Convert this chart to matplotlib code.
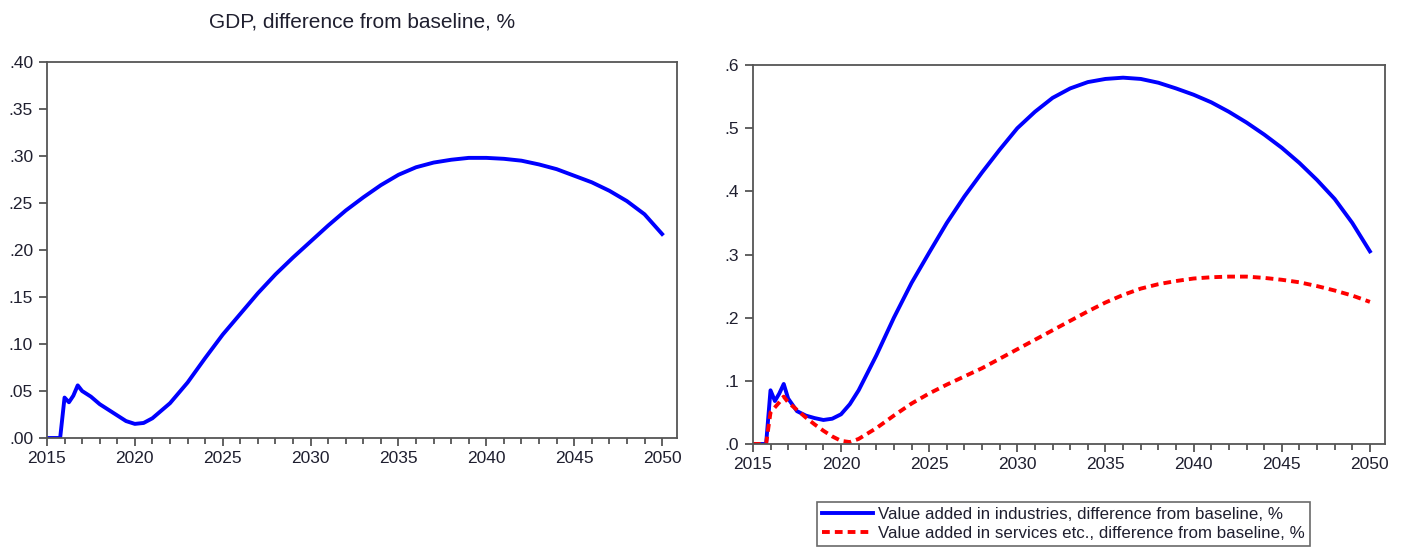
import matplotlib
matplotlib.use("Agg")
import matplotlib.pyplot as plt
from matplotlib.ticker import MultipleLocator, FuncFormatter

plt.rcParams['font.family'] = ['Liberation Sans', 'DejaVu Sans']

# values
years = [2015.0, 2015.5, 2015.75, 2016.0, 2016.25, 2016.5, 2016.75, 2017.0, 2017.5,
         2018.0, 2018.5, 2019.0, 2019.5, 2020.0, 2020.5, 2021.0, 2022.0, 2023.0, 2024.0,
         2025.0, 2026.0, 2027.0, 2028.0, 2029.0, 2030.0, 2031.0, 2032.0, 2033.0, 2034.0,
         2035.0, 2036.0, 2037.0, 2038.0, 2039.0, 2040.0, 2041.0, 2042.0, 2043.0, 2044.0,
         2045.0, 2046.0, 2047.0, 2048.0, 2049.0, 2050.0]

gdp = [0.0, 0.0, 0.0, 0.043, 0.038, 0.045, 0.056, 0.050, 0.044,
       0.036, 0.030, 0.024, 0.018, 0.015, 0.016, 0.021, 0.037, 0.059, 0.085,
       0.110, 0.132, 0.154, 0.174, 0.192, 0.209, 0.226, 0.242, 0.256, 0.269,
       0.280, 0.288, 0.293, 0.296, 0.298, 0.298, 0.297, 0.295, 0.291, 0.286,
       0.279, 0.272, 0.263, 0.252, 0.238, 0.217]

industries = [0.0, 0.0, 0.0, 0.085, 0.068, 0.080, 0.095, 0.072, 0.052,
              0.045, 0.041, 0.038, 0.040, 0.047, 0.063, 0.085, 0.140, 0.200, 0.255,
              0.303, 0.350, 0.392, 0.430, 0.466, 0.500, 0.526, 0.548, 0.563, 0.573,
              0.578, 0.580, 0.578, 0.572, 0.563, 0.553, 0.541, 0.526, 0.509, 0.490,
              0.469, 0.445, 0.418, 0.388, 0.350, 0.305]

services = [0.0, 0.0, 0.0, 0.050, 0.058, 0.066, 0.075, 0.066, 0.054,
            0.042, 0.031, 0.021, 0.012, 0.005, 0.003, 0.008, 0.025, 0.045, 0.064,
            0.080, 0.094, 0.107, 0.120, 0.135, 0.150, 0.165, 0.180, 0.195, 0.210,
            0.224, 0.236, 0.246, 0.253, 0.258, 0.262, 0.264, 0.265, 0.265, 0.263,
            0.260, 0.256, 0.250, 0.243, 0.235, 0.225]

spine_col = '#555555'
text_col = '#1f1f2f'


def no_zero(fmt):
    return FuncFormatter(lambda v, p: (fmt % v).lstrip('0') if v >= 0 else fmt % v)


def style(ax, ymax, ystep, fmt):
    ax.set_xlim(2015, 2050.85)
    ax.set_ylim(0, ymax)
    ax.xaxis.set_major_locator(MultipleLocator(5))
    ax.xaxis.set_minor_locator(MultipleLocator(1))
    ax.yaxis.set_major_locator(MultipleLocator(ystep))
    ax.yaxis.set_major_formatter(no_zero(fmt))
    for s in ax.spines.values():
        s.set_color(spine_col)
        s.set_linewidth(1.3)
    ax.tick_params(which='major', direction='out', length=6, width=1.3,
                   color=spine_col, labelsize=12.5, labelcolor=text_col,
                   top=False, right=False)
    ax.tick_params(axis='y', which='major', pad=4)
    ax.tick_params(which='minor', direction='out', length=4, width=1.3,
                   color=spine_col, top=False, right=False)
    ax.tick_params(axis='y', which='minor', left=False)


fig = plt.figure(figsize=(14.02, 5.54), dpi=100)

ax1 = fig.add_axes([0.0335, 0.2094, 0.4494, 0.6787])
ax1.plot(years, gdp, color='#0000ff', lw=2.8)
style(ax1, 0.40, 0.05, '%.2f')
ax1.set_title("GDP, difference from baseline, %", fontsize=15,
              color=text_col, pad=25)

ax2 = fig.add_axes([0.537, 0.1986, 0.4508, 0.684])
l1, = ax2.plot(years, industries, color='#0000ff', lw=2.8)
l2, = ax2.plot(years, services, color='#ff0000', lw=2.8, ls=(0, (2.0, 1.3)))
style(ax2, 0.6, 0.1, '%.1f')

leg = fig.legend([l1, l2],
                 ["Value added in industries, difference from baseline, %",
                  "Value added in services etc., difference from baseline, %"],
                 loc='upper left', bbox_to_anchor=(817 / 1402, 1 - 502 / 554),
                 fontsize=12.2, frameon=True, fancybox=False, handlelength=3.0,
                 handletextpad=0.3, borderpad=0.3, labelspacing=0.25,
                 borderaxespad=0)
leg.get_frame().set_edgecolor('#444444')
leg.get_frame().set_linewidth(1.2)
for t in leg.get_texts():
    t.set_color(text_col)

fig.savefig("out.png", dpi=100)
